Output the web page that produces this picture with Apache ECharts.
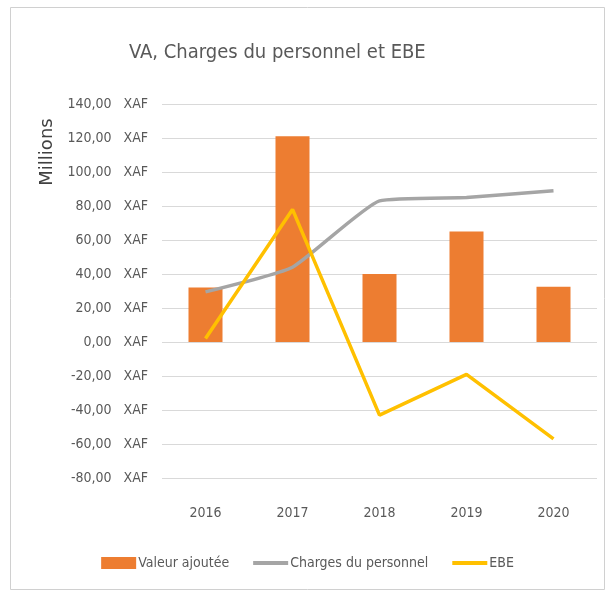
<!DOCTYPE html>
<html>
<head>
<meta charset="utf-8">
<script src="https://cdn.jsdelivr.net/npm/echarts@6/dist/echarts.min.js"></script>
<style>
  html, body { margin: 0; padding: 0; background: #fff; }
  #chart { width: 615px; height: 596px; }
</style>
</head>
<body>
<div id="chart"></div>
<script>
var years = ['2016', '2017', '2018', '2019', '2020'];
var valeurAjoutee = [32, 121, 40, 65, 32.5];
var chargesPersonnel = [29.5, 44, 83, 85, 89];
var ebe = [2, 78, -43, -19, -57];

var font = '"DejaVu Sans Condensed", "Liberation Sans Narrow", sans-serif';
var lineIcon = 'path://M0,0 L36,0 L36,4 L0,4 Z';

var myChart = echarts.init(document.getElementById('chart'));

var option = {
    backgroundColor: '#fff',
    title: {
        text: 'VA, Charges du personnel et EBE',
        left: 124,
        top: 38,
        textStyle: { fontFamily: font, fontSize: 20, fontWeight: 'normal', color: '#595959' }
    },
    graphic: [
        {
            type: 'rect',
            shape: { x: 10.5, y: 7.5, width: 594, height: 582 },
            style: { fill: 'none', stroke: '#d0d0d0', lineWidth: 1 }
        },
        {
            type: 'text',
            x: 47,
            y: 152,
            rotation: Math.PI / 2,
            style: {
                text: 'Millions',
                fontFamily: '"DejaVu Sans", sans-serif',
                fontSize: 18,
                fill: '#404040',
                align: 'center',
                verticalAlign: 'middle'
            }
        }
    ],
    legend: {
        bottom: 21,
        left: 'center',
        itemWidth: 35,
        itemHeight: 12,
        itemGap: 24,
        symbolKeepAspect: true,
        textStyle: { fontFamily: font, fontSize: 14, color: '#595959', padding: [0, 0, 0, -3] },
        data: [
            { name: 'Valeur ajoutée', icon: 'rect' },
            { name: 'Charges du personnel', icon: lineIcon },
            { name: 'EBE', icon: lineIcon }
        ]
    },
    grid: { left: 162, right: 18, top: 104, bottom: 118 },
    xAxis: {
        type: 'category',
        data: years,
        axisLine: { show: false, onZero: false },
        axisTick: { show: false },
        axisLabel: { fontFamily: font, fontSize: 14, color: '#595959', margin: 28 }
    },
    yAxis: {
        type: 'value',
        min: -80,
        max: 140,
        interval: 20,
        axisLine: { show: false },
        axisTick: { show: false },
        splitLine: { lineStyle: { color: '#d9d9d9', width: 1 } },
        axisLabel: {
            margin: 14,
            fontFamily: font,
            fontSize: 14,
            color: '#595959',
            formatter: function (v) {
                return v.toFixed(2).replace('.', ',') + '   XAF';
            }
        }
    },
    series: [
        {
            name: 'Valeur ajoutée',
            type: 'bar',
            data: valeurAjoutee,
            barWidth: 34,
            itemStyle: { color: '#ED7D31' }
        },
        {
            name: 'Charges du personnel',
            type: 'line',
            data: chargesPersonnel,
            smooth: 0.15,
            symbol: 'none',
            lineStyle: { color: '#A5A5A5', width: 3.5 },
            itemStyle: { color: '#A5A5A5' }
        },
        {
            name: 'EBE',
            type: 'line',
            data: ebe,
            symbol: 'none',
            lineStyle: { color: '#FFC000', width: 3.5 },
            itemStyle: { color: '#FFC000' }
        }
    ]
};

myChart.setOption(option);
</script>
</body>
</html>
